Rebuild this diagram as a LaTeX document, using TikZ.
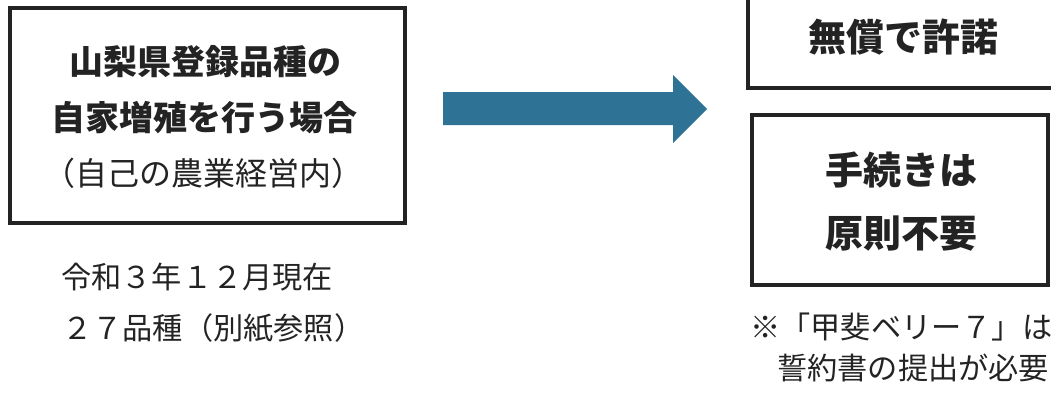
\documentclass[tikz,border=0pt]{standalone}
\usepackage{fontspec}
\newfontfamily\jp{Noto Sans CJK JP}
\definecolor{arrowblue}{RGB}{46,115,150}
\definecolor{ink}{RGB}{35,35,35}
\tikzset{
  boxframe/.style={draw=ink, line width=3.5pt, inner sep=0pt},
  boldtxt/.style={inner sep=0pt, text=ink, font=\jp\bfseries\fontsize{34}{40}\selectfont},
  bigtxt/.style={inner sep=0pt, text=ink, font=\jp\bfseries\fontsize{38}{44}\selectfont},
  regtxt/.style={inner sep=0pt, text=ink, font=\jp\fontsize{32}{38}\selectfont},
  notetxt/.style={inner sep=0pt, text=ink, font=\jp\fontsize{30.2}{34}\selectfont},
}
\begin{document}
\begin{tikzpicture}[x=1pt,y=-1pt]
\useasboundingbox (0,0) rectangle (1051,399);
\clip (0,0) rectangle (1051,399);
\fill[white] (0,0) rectangle (1051,399);
% left box
\draw[boxframe] (10,8) rectangle (405,223);
\node[boldtxt, anchor=base] (l1) at (205,74.5) {山梨県登録品種の};
\node[boldtxt, anchor=base] (l2) at (204,130.5) {自家増殖を行う場合};
\node[regtxt, anchor=base] (l3) at (203,185) {（自己の農業経営内）};
% notes under left box
\node[notetxt, anchor=base west] (n1) at (61,288.5) {令和３年１２月現在};
\node[notetxt, anchor=base west] (n2) at (62,339.5) {２７品種（別紙参照）};
% arrow
\fill[arrowblue] (443,92) -- (673,92) -- (673,75) -- (707,109) -- (673,143) -- (673,125) -- (443,125) -- cycle;
% right top box
\draw[boxframe] (748,-10) rectangle (1062,88);
\node[bigtxt, anchor=base] (r1) at (903,51.5) {無償で許諾};
% right bottom box
\draw[boxframe] (752,115) rectangle (1048,285);
\node[bigtxt, anchor=base] (r2) at (901,184.5) {手続きは};
\node[bigtxt, anchor=base] (r3) at (901,247.5) {原則不要};
% note under right box
\node[notetxt, anchor=base west] (m1) at (750,338.5) {※「甲斐ベリー７」は};
\node[notetxt, anchor=base west] (m2) at (777,379.5) {誓約書の提出が必要};
\end{tikzpicture}
\end{document}
